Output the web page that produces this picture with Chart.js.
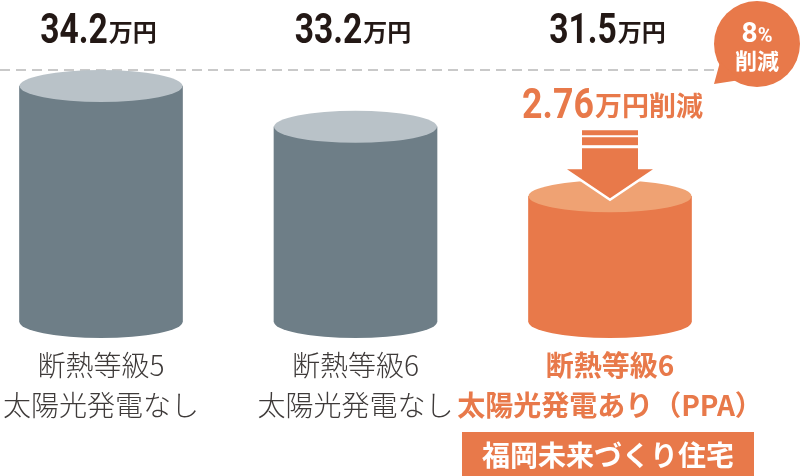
<!DOCTYPE html>
<html lang="ja">
<head>
<meta charset="utf-8">
<script src="https://cdn.jsdelivr.net/npm/chart.js@4.4.1/dist/chart.umd.min.js"></script>
<style>
html, body { margin: 0; padding: 0; background: #fff; }
#wrap { width: 800px; height: 476px; position: relative; }
</style>
</head>
<body>
<div id="wrap"><canvas id="costChart"></canvas></div>
<script>
/* 年間光熱費の比較 (万円) */
const categories = [
    ['断熱等級5', '太陽光発電なし'],
    ['断熱等級6', '太陽光発電なし'],
    ['断熱等級6', '太陽光発電あり（PPA）']
];
const amounts = [34.2, 33.2, 31.5];
const unitLabel = '万円';
const savingAmount = '2.76';
const savingPercent = '8%';
const houseName = '福岡未来づくり住宅';

const bodyColors = ['#6e7e87', '#6e7e87', '#e8794a'];
const topColors = ['#b9c2c8', '#b9c2c8', '#efa273'];
const orange = '#e8794a';
const darkText = '#231815';
const jpFont = '"Noto Sans CJK JP", "Noto Sans", sans-serif';
const axisMin = 28.42; // eje recortado (la ilustración no está a escala)

// número condensado + unidad, centrado en cx
function drawAmount(ctx, num, unit, cx, baseline, numFont, unitFont, squeeze, color) {
    ctx.font = numFont;
    var wn = ctx.measureText(num).width * squeeze;
    ctx.font = unitFont;
    var wu = ctx.measureText(unit).width;
    var x = cx - (wn + wu) / 2;
    ctx.fillStyle = color;
    ctx.textAlign = 'left';
    ctx.textBaseline = 'alphabetic';
    ctx.save();
    ctx.translate(x, baseline);
    ctx.scale(squeeze, 1);
    ctx.font = numFont;
    ctx.fillText(num, 0, 0);
    ctx.restore();
    ctx.font = unitFont;
    ctx.fillText(unit, x + wn + 1, baseline - 2);
}

// línea punteada de referencia
const guidePlugin = {
    id: 'guide',
    beforeDatasetsDraw(chart) {
        var ctx = chart.ctx;
        var top = chart.getDatasetMeta(0).data[0].y;
        ctx.save();
        ctx.strokeStyle = '#b8b8b8';
        ctx.lineWidth = 1.5;
        ctx.setLineDash([10, 6]);
        ctx.beginPath();
        ctx.moveTo(0, top - 16);
        ctx.lineTo(714, top - 16);
        ctx.stroke();
        ctx.restore();
    }
};

// tapas elípticas de los cilindros
const cylinderPlugin = {
    id: 'cylinders',
    afterDatasetsDraw(chart) {
        var ctx = chart.ctx;
        chart.getDatasetMeta(0).data.forEach(function (bar, i) {
            var rx = bar.width / 2, ry = 16;
            ctx.save();
            ctx.fillStyle = bodyColors[i];
            ctx.beginPath();
            ctx.ellipse(bar.x, bar.base, rx, ry, 0, 0, Math.PI);
            ctx.fill();
            ctx.fillStyle = topColors[i];
            ctx.beginPath();
            ctx.ellipse(bar.x, bar.y, rx, ry, 0, 0, 2 * Math.PI);
            ctx.fill();
            ctx.restore();
        });
    }
};

// textos, flecha y globo
const annotationPlugin = {
    id: 'annotations',
    afterDraw(chart) {
        var ctx = chart.ctx;
        var bars = chart.getDatasetMeta(0).data;
        var last = bars.length - 1;

        bars.forEach(function (bar, i) {
            drawAmount(ctx, amounts[i].toFixed(1), unitLabel, bar.x - 3, 43,
                'bold 42px Roboto', 'bold 24px ' + jpFont, 0.8, darkText);

            var hi = i === last;
            ctx.save();
            ctx.textAlign = 'center';
            ctx.textBaseline = 'middle';
            ctx.fillStyle = hi ? orange : '#3e3a39';
            ctx.font = (hi ? 'bold ' : '300 ') + '28px ' + jpFont;
            ctx.fillText(categories[i][0], bar.x, 365);
            ctx.fillText(categories[i][1], bar.x, 405);
            ctx.restore();
        });

        var b = bars[last];
        // caja del nombre
        ctx.save();
        ctx.fillStyle = orange;
        ctx.fillRect(b.x - 148, 432, 292, 50);
        ctx.fillStyle = '#fff';
        ctx.font = 'bold 28px ' + jpFont;
        ctx.textAlign = 'center';
        ctx.textBaseline = 'middle';
        ctx.fillText(houseName, b.x - 2, 455);
        ctx.restore();

        // 2.76万円削減
        drawAmount(ctx, savingAmount, unitLabel + '削減', b.x + 2, 118,
            'bold 42px Roboto', 'bold 27px ' + jpFont, 0.85, orange);

        // flecha
        var tip = b.y + 2;
        ctx.save();
        ctx.fillStyle = orange;
        ctx.fillRect(b.x - 28, tip - 68, 56, 5);
        ctx.fillRect(b.x - 28, tip - 61, 56, 8);
        ctx.beginPath();
        ctx.moveTo(b.x - 28, tip - 50);
        ctx.lineTo(b.x + 28, tip - 50);
        ctx.lineTo(b.x + 28, tip - 29);
        ctx.lineTo(b.x + 43, tip - 29);
        ctx.lineTo(b.x, tip);
        ctx.lineTo(b.x - 43, tip - 29);
        ctx.lineTo(b.x - 28, tip - 29);
        ctx.closePath();
        ctx.strokeStyle = '#fff';
        ctx.lineWidth = 5;
        ctx.lineJoin = 'miter';
        ctx.stroke();
        ctx.fill();
        ctx.restore();

        // globo 8% 削減
        var cx = 757, cy = 44, r = 43;
        ctx.save();
        ctx.fillStyle = orange;
        ctx.beginPath();
        ctx.arc(cx, cy, r, 0, 2 * Math.PI);
        ctx.fill();
        ctx.beginPath();
        ctx.moveTo(720, 62);
        ctx.lineTo(714, 84);
        ctx.lineTo(740, 80);
        ctx.closePath();
        ctx.fill();
        ctx.fillStyle = '#fff';
        ctx.textBaseline = 'alphabetic';
        ctx.textAlign = 'left';
        var digit = savingPercent.slice(0, -1);
        ctx.font = 'bold 28px Roboto';
        var w8 = ctx.measureText(digit).width;
        ctx.font = 'bold 20px Roboto';
        var wp = ctx.measureText('%').width;
        var x0 = cx - (w8 + wp) / 2;
        ctx.font = 'bold 28px Roboto';
        ctx.fillText(digit, x0, 42);
        ctx.font = 'bold 20px Roboto';
        ctx.fillText('%', x0 + w8, 42);
        ctx.font = 'bold 22px ' + jpFont;
        ctx.textAlign = 'center';
        ctx.textBaseline = 'middle';
        ctx.fillText('削減', cx, 61);
        ctx.restore();
    }
};

var canvas = document.getElementById('costChart');
if (canvas) {
    var ctx = canvas.getContext('2d');
    var costChart = new Chart(ctx, {
        type: 'bar',
        data: {
            labels: categories.map(c => c.join(' ')),
            datasets: [{
                data: amounts,
                base: axisMin,
                backgroundColor: bodyColors,
                borderWidth: 0,
                barThickness: 163,
                clip: false
            }]
        },
        options: {
            responsive: true,
            maintainAspectRatio: false,
            animation: false,
            layout: { padding: { top: 86, bottom: 154, left: 101, right: 190 } },
            plugins: {
                legend: { display: false },
                tooltip: { enabled: false }
            },
            scales: {
                x: { display: false, offset: false },
                y: { display: false, min: axisMin, max: 34.2 }
            }
        },
        plugins: [guidePlugin, cylinderPlugin, annotationPlugin]
    });
}
</script>
</body>
</html>
